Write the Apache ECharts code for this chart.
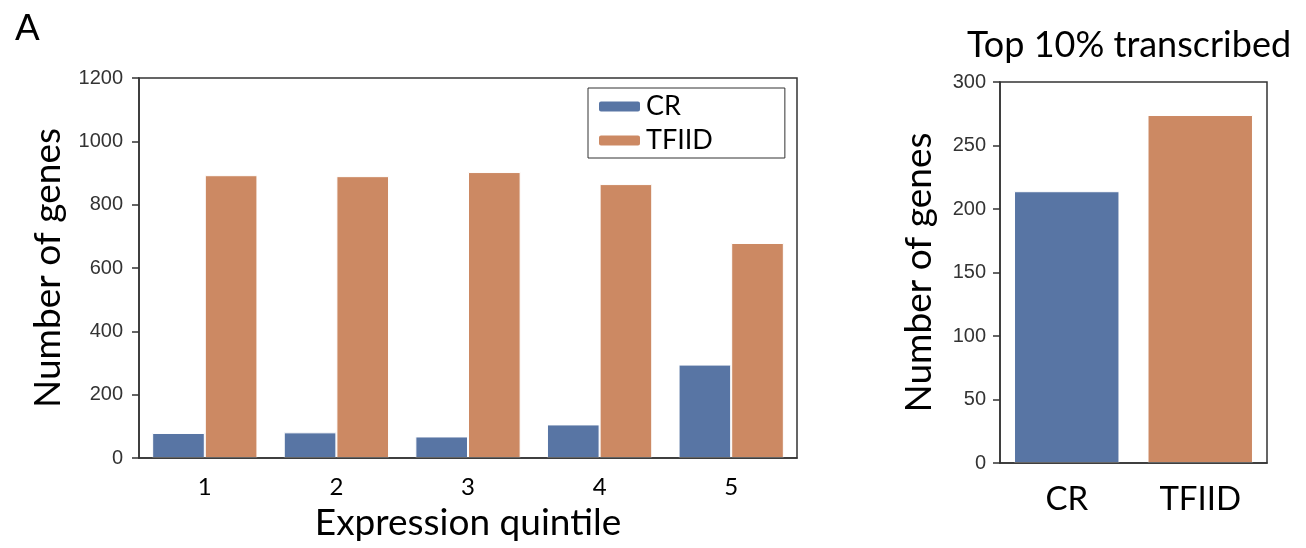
<!DOCTYPE html>
<html><head><meta charset="utf-8">
<script src="https://cdn.jsdelivr.net/npm/echarts@6/dist/echarts.min.js"></script>
<style>html,body{margin:0;padding:0;background:#fff}#c{width:1306px;height:548px}</style>
</head><body><div id="c"></div>
<script>
const quintiles = ['1','2','3','4','5'];
const crValues = [79, 81, 68, 106, 295];
const tfiidValues = [893, 890, 903, 865, 679];
const leftTicks = [0, 200, 400, 600, 800, 1000, 1200];
const topCategories = ['CR','TFIID'];
const topValues = [214, 274];
const rightTicks = [0, 50, 100, 150, 200, 250, 300];

const BLUE = '#5875a4', ORANGE = '#cc8963', AX = '#333333';
const sansLabel = '"Liberation Sans", Arial, sans-serif';
const cal = 'Lato, "Open Sans", sans-serif';

const chart = echarts.init(document.getElementById('c'), null, {renderer:'canvas'});
chart.setOption({
  animation: false,
  backgroundColor: '#fff',
  title: [
    {text:'A', left: 10, top: 6, textStyle:{fontFamily:sansLabel, fontSize:37, fontWeight:'normal', color:'#000'}},
    {text:'Top 10% transcribed', left: 962, top: 22, textStyle:{fontFamily:cal, fontSize:36, fontWeight:'normal', color:'#000'}}
  ],
  legend: {
    data:['CR','TFIID'], orient:'vertical', left: 588, top: 88,
    itemWidth: 43, itemHeight: 12, itemGap: 7,
    padding:[5, 72, 4, 9],
    borderColor:'#333', borderWidth:1, borderRadius:0,
    textStyle:{fontFamily:cal, fontSize:27, color:'#000'}
  },
  grid: [
    {left:139, right:509, top:78, bottom:90, outerBoundsMode:'none', containLabel:false, show:true, borderColor:AX, borderWidth:1.5, backgroundColor:'transparent'},
    {left:1000, right:39, top:82, bottom:85, outerBoundsMode:'none', containLabel:false, show:true, borderColor:AX, borderWidth:1.5, backgroundColor:'transparent'}
  ],
  xAxis: [
    {type:'category', gridIndex:0, data:quintiles, z:5,
     name:'Expression quintile', nameLocation:'middle', nameGap:47,
     nameTextStyle:{fontFamily:cal, fontSize:37, color:'#000'},
     axisLine:{lineStyle:{color:AX, width:1.5}},
     axisTick:{alignWithLabel:true, length:7, lineStyle:{color:AX, width:1.5}},
     axisLabel:{fontFamily:cal, fontSize:24, color:'#000', margin:17}},
    {type:'category', gridIndex:1, data:topCategories, z:5,
     axisLine:{lineStyle:{color:AX, width:1.5}},
     axisTick:{alignWithLabel:true, length:7, lineStyle:{color:AX, width:1.5}},
     axisLabel:{fontFamily:cal, fontSize:33, color:'#000', margin:20}}
  ],
  yAxis: [
    {type:'value', gridIndex:0, min:leftTicks[0], max:leftTicks[leftTicks.length-1], interval:200, z:5,
     name:'Number of genes', nameLocation:'middle', nameGap:72,
     nameTextStyle:{fontFamily:cal, fontSize:37, color:'#000'},
     axisLine:{show:true, lineStyle:{color:AX, width:1.5}},
     axisTick:{show:true, length:7, lineStyle:{color:AX, width:1.5}},
     splitLine:{show:false},
     axisLabel:{fontFamily:sansLabel, fontSize:20, color:'#333', margin:16, formatter: v => String(v)}},
    {type:'value', gridIndex:1, min:rightTicks[0], max:rightTicks[rightTicks.length-1], interval:50, z:5,
     name:'Number of genes', nameLocation:'middle', nameGap:62,
     nameTextStyle:{fontFamily:cal, fontSize:37, color:'#000'},
     axisLine:{show:true, lineStyle:{color:AX, width:1.5}},
     axisTick:{show:true, length:7, lineStyle:{color:AX, width:1.5}},
     splitLine:{show:false},
     axisLabel:{fontFamily:sansLabel, fontSize:20, color:'#333', margin:14, formatter: v => String(v)}}
  ],
  series: [
    {name:'CR', type:'bar', xAxisIndex:0, yAxisIndex:0, data:crValues,
     barGap:'0%', barCategoryGap:'20%',
     itemStyle:{color:BLUE, borderColor:'#fff', borderWidth:1}},
    {name:'TFIID', type:'bar', xAxisIndex:0, yAxisIndex:0, data:tfiidValues,
     barGap:'0%', barCategoryGap:'20%',
     itemStyle:{color:ORANGE, borderColor:'#fff', borderWidth:1}},
    {name:'top10', type:'bar', xAxisIndex:1, yAxisIndex:1,
     barCategoryGap:'21%',
     data: topValues.map((v,i)=>({value:v, itemStyle:{color: i===0?BLUE:ORANGE}})),
     itemStyle:{borderColor:'#fff', borderWidth:1}}
  ]
});
</script></body></html>
